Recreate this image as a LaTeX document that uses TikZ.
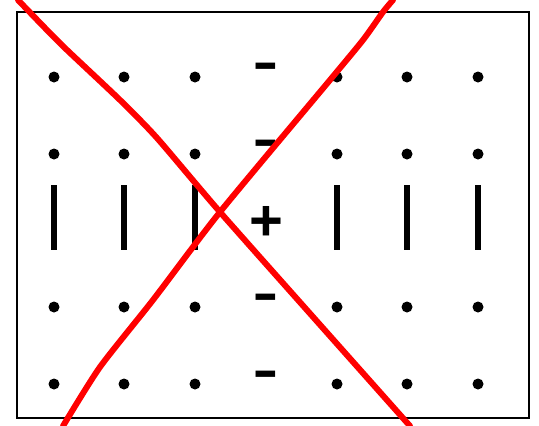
\documentclass[tikz,border=0pt]{standalone}
\usepackage{fontspec}
\setmainfont{Liberation Sans}
\usetikzlibrary{positioning}
\begin{document}
\begin{tikzpicture}[
    x=1pt, y=-1pt,
    dot/.style={circle, fill=black, inner sep=0pt, minimum size=11pt},
    bar/.style={rectangle, fill=black, inner sep=0pt, minimum width=6pt, minimum height=65pt},
    sign/.style={inner sep=0pt, anchor=base, font=\bfseries\fontsize{58}{58}\selectfont},
    minus/.style={sign, font=\fontsize{80}{80}\selectfont},
    cross/.style={red, line width=6pt, line cap=round, line join=round}
]
    \useasboundingbox (0,0) rectangle (539,426);

    % Frame
    \draw[line width=2.5pt] (17,12) rectangle (529,418);

    % Dots and bars in the outer columns
    \foreach \c/\x in {1/54,2/124,3/195,5/337,6/407,7/478} {
        \foreach \r/\y in {1/77,2/154,4/307,5/384}
            \node[dot] (d\c\r) at (\x,\y) {};
        \node[bar] (b\c) at (\x,217) {};
    }

    % Centre column
    \foreach \r/\y in {1/87,2/164,4/318,5/395}
        \node[minus] (m\r) at (266,\y) {-};
    \node[sign] (plus) at (266,240) {+};

    % Red cross
    \coordinate (x) at (220,212);
    \draw[cross] plot[smooth, tension=0.4] coordinates {(18,0) (45,28) (67,50) (120,100) (157,138) (x) (330,336) (410,426)};
    \draw[cross] plot[smooth, tension=0.4] coordinates {(393,0) (383,12) (363,40) (330,80) (x) (153,300) (100,367) (63,426)};
\end{tikzpicture}
\end{document}
